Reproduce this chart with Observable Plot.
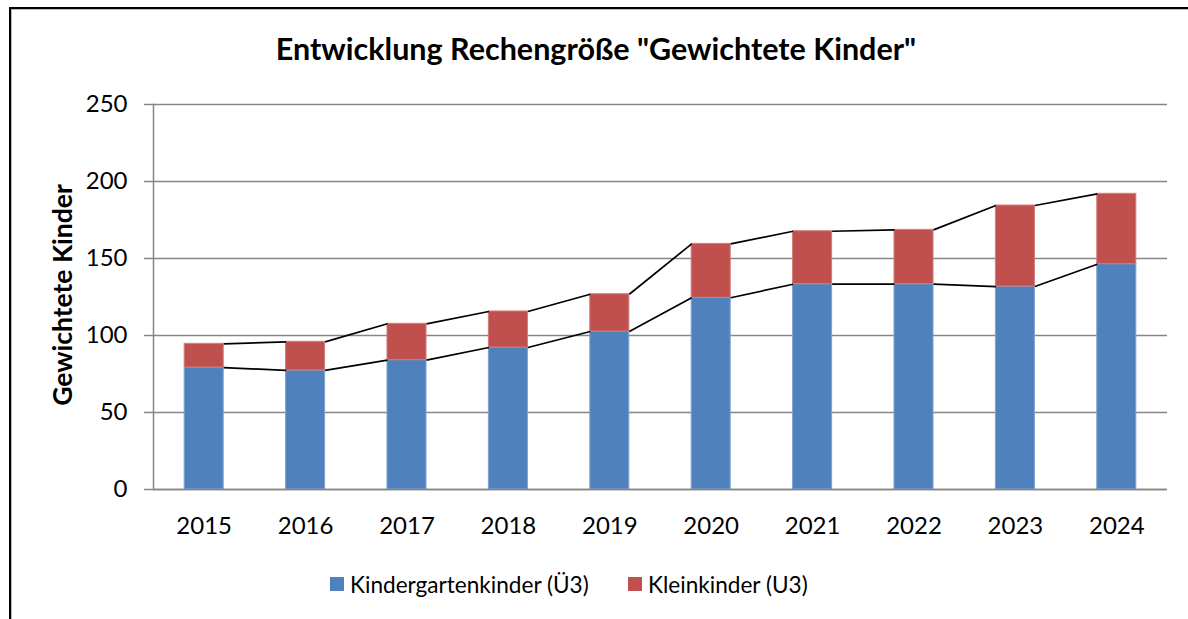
<!DOCTYPE html>
<html>
<head>
<meta charset="utf-8">
<script src="https://cdn.jsdelivr.net/npm/d3@7"></script>
<script src="https://cdn.jsdelivr.net/npm/@observablehq/plot@0.6"></script>
<style>
  html, body { margin: 0; padding: 0; background: #fff; }
  #wrap { position: relative; width: 1188px; height: 619px; overflow: hidden; font-family: Lato, "Open Sans", sans-serif; }
  #frame { position: absolute; left: 9px; top: 7px; width: 1300px; height: 700px; border-top: 2.5px solid #000; border-left: 2.5px solid #000; box-shadow: inset 1px 1px 0 #bbb; }
  #title { position: absolute; left: 0; width: 1192px; top: 30px; text-align: center; font-weight: 700; font-size: 30.5px; line-height: 1.2; color: #000; white-space: nowrap; }
  #ylabel { position: absolute; left: 62px; top: 295px; transform: translate(-50%, -50%) rotate(-90deg); font-weight: 700; font-size: 26.5px; white-space: nowrap; color: #000; }
  #chart { position: absolute; left: 0; top: 80px; }
  #legend { position: absolute; top: 570px; left: 0; height: 28px; font-size: 22.6px; color: #000; }
  .item { position: absolute; top: 0; display: flex; align-items: center; height: 28px; white-space: nowrap; }
  .sw { width: 14px; height: 14px; margin-right: 6px; }
</style>
</head>
<body>
<div id="wrap">
  <div id="frame"></div>
  <div id="title"></div>
  <div id="ylabel"></div>
  <div id="chart"></div>
  <div id="legend"></div>
</div>
<script>
const titleText = 'Entwicklung Rechengröße "Gewichtete Kinder"';
const yLabel = "Gewichtete Kinder";
const years = [2015, 2016, 2017, 2018, 2019, 2020, 2021, 2022, 2023, 2024];
const kindergarten = [79.2, 77.3, 84.0, 92.2, 102.6, 124.5, 133.3, 133.3, 131.8, 146.3];
const totals = [94.6, 95.9, 107.6, 115.6, 126.8, 159.5, 167.7, 168.6, 184.4, 192.0];
const seriesNames = ["Kindergartenkinder (Ü3)", "Kleinkinder (U3)"];
const seriesColors = ["#4F81BD", "#C0504D"];
const yTicks = [0, 50, 100, 150, 200, 250];

document.getElementById("title").textContent = titleText;
document.getElementById("ylabel").textContent = yLabel;

const half = 0.1925; // half bar width in category units
const rows = years.map((yr, i) => ({year: yr, u3: kindergarten[i], total: totals[i]}));
const links = [];
for (let i = 0; i < years.length - 1; i++) {
  links.push({x1: years[i] + half, x2: years[i + 1] - half, y1: kindergarten[i], y2: kindergarten[i + 1]});
  links.push({x1: years[i] + half, x2: years[i + 1] - half, y1: totals[i], y2: totals[i + 1]});
}

const chart = Plot.plot({
  width: 1188,
  height: 460,
  marginLeft: 153,
  marginRight: 21,
  marginTop: 24,
  marginBottom: 51,
  style: {fontFamily: "Lato, 'Open Sans', sans-serif", fontSize: "24px", color: "#000", background: "transparent"},
  x: {domain: [years[0] - 0.5, years[years.length - 1] + 0.5], label: null},
  y: {domain: [yTicks[0], yTicks[yTicks.length - 1]], label: null},
  marks: [
    Plot.gridY(yTicks, {stroke: "#868686", strokeOpacity: 1, strokeWidth: 1.5}),
    Plot.axisY(yTicks, {tickSize: 9, tickPadding: 17, stroke: "#868686", strokeWidth: 1.5, fill: "#000", fontSize: 24, label: null}),
    Plot.axisX(years, {tickSize: 0, tickPadding: 27, tickFormat: d => String(d), fill: "#000", fontSize: 24, label: null}),
    Plot.rectY(rows, {x1: d => d.year - half, x2: d => d.year + half, y1: 0, y2: "u3", fill: seriesColors[0], stroke: "#7ea3d2", strokeWidth: 1, inset: 0}),
    Plot.rectY(rows, {x1: d => d.year - half, x2: d => d.year + half, y1: "u3", y2: "total", fill: seriesColors[1], stroke: "#d27c79", strokeWidth: 1, inset: 0}),
    Plot.link(links, {x1: "x1", x2: "x2", y1: "y1", y2: "y2", stroke: "#000", strokeWidth: 1.7}),
    Plot.frame({anchor: "left", stroke: "#868686", strokeWidth: 1.5}),
    Plot.ruleY([0], {stroke: "#868686", strokeWidth: 1.5})
  ]
});
document.getElementById("chart").appendChild(chart);

const legend = document.getElementById("legend");
const legendX = [330, 628];
seriesNames.forEach((name, i) => {
  const item = document.createElement("div");
  item.className = "item";
  item.style.left = legendX[i] + "px";
  const sw = document.createElement("div");
  sw.className = "sw";
  sw.style.background = seriesColors[i];
  const t = document.createElement("span");
  t.textContent = name;
  item.appendChild(sw);
  item.appendChild(t);
  legend.appendChild(item);
});
</script>
</body>
</html>
